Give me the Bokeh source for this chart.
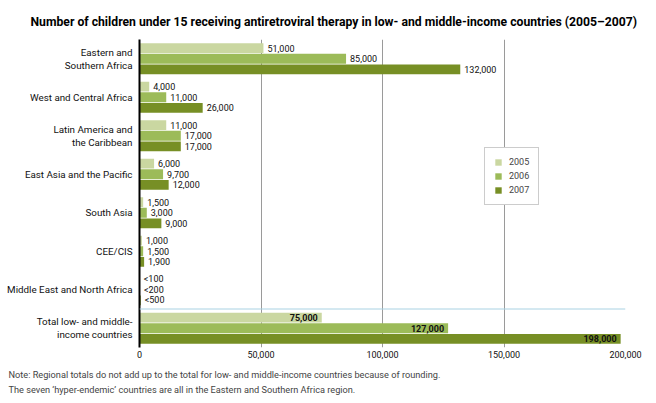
from bokeh.plotting import figure
from bokeh.models import (ColumnDataSource, FixedTicker, NumeralTickFormatter, Range1d,
                          Span, Legend, LegendItem, Title)
from bokeh.core.properties import value
from bokeh.embed import file_html
from bokeh.resources import INLINE

FONT = "Roboto"

regions = ["Eastern and\nSouthern Africa", "West and Central Africa",
           "Latin America and\nthe Caribbean", "East Asia and the Pacific",
           "South Asia", "CEE/CIS", "Middle East and North Africa",
           "Total low- and middle-\nincome countries"]
years = ["2005", "2006", "2007"]
v2005 = [51000, 4000, 11000, 6000, 1500, 1000, 100, 75000]
v2006 = [85000, 11000, 17000, 9700, 3000, 1500, 200, 127000]
v2007 = [132000, 26000, 17000, 12000, 9000, 1900, 500, 198000]
t2005 = ["51,000", "4,000", "11,000", "6,000", "1,500", "1,000", "<100", "75,000"]
t2006 = ["85,000", "11,000", "17,000", "9,700", "3,000", "1,500", "<200", "127,000"]
t2007 = ["132,000", "26,000", "17,000", "12,000", "9,000", "1,900", "<500", "198,000"]
colors = ["#cad7a1", "#9cbb59", "#778f25"]
x_ticks = [0, 50000, 100000, 150000, 200000]
note1 = "Note: Regional totals do not add up to the total for low- and middle-income countries because of rounding."
note2 = "The seven \u2018hyper-endemic\u2019 countries are all in the Eastern and Southern Africa region."
title_text = "Number of children under 15 receiving antiretroviral therapy in low- and middle-income countries (2005\u20132007)"

p = figure(width=656, height=403, output_backend="svg", toolbar_location=None,
           x_range=Range1d(0, 200000), y_range=Range1d(7.5, -0.5),
           min_border_left=139, min_border_right=31, min_border_top=39, min_border_bottom=56,
           title=None)
p.outline_line_color = None
p.background_fill_color = "white"

t = Title(text=title_text, align="left", offset=-109, text_font=FONT,
          text_font_size="12.2px", text_font_style="bold", text_color="#000000", standoff=22)
p.add_layout(t, "above")

n = len(regions)
idx = list(range(n))
offsets = [-0.275, 0.0, 0.275]
vals = [v2005, v2006, v2007]
texts = [t2005, t2006, t2007]
items = []
for k in range(3):
    ys = [i + offsets[k] for i in idx]
    src = ColumnDataSource(dict(y=ys[:7], x=vals[k][:7], t=texts[k][:7]))
    tsrc = ColumnDataSource(dict(y=ys[7:], x=vals[k][7:], t=texts[k][7:]))
    r = p.hbar(y=ys, right=vals[k], left=0, height=0.255, fill_color=colors[k],
               line_color=None)
    items.append(LegendItem(label=years[k], renderers=[r]))
    p.text(x="x", y="y", text="t", source=src, x_offset=4, text_align="left",
           text_baseline="middle", text_font=value(FONT), text_font_size="9px",
           text_color="#111111")
    p.text(x="x", y="y", text="t", source=tsrc, x_offset=-4, text_align="right",
           text_baseline="middle", text_font=value(FONT), text_font_size="9px",
           text_font_style="bold", text_color="#111111")

p.add_layout(Span(location=6.5, dimension="width", line_color="#a9d2e3", line_width=1))

p.xaxis.ticker = FixedTicker(ticks=x_ticks)
p.xaxis.formatter = NumeralTickFormatter(format="0,0")
p.xaxis.axis_line_color = None
p.xaxis.major_tick_line_color = None
p.xaxis.minor_tick_line_color = None
p.xaxis.major_tick_out = 0
p.xaxis.major_tick_in = 0
p.xaxis.major_label_text_font = FONT
p.xaxis.major_label_text_font_size = "9px"
p.xaxis.major_label_text_color = "#111111"
p.xaxis.major_label_standoff = 3

p.yaxis.ticker = FixedTicker(ticks=idx)
p.yaxis.major_label_overrides = {i: regions[i] for i in idx}
p.yaxis.axis_line_color = "black"
p.yaxis.axis_line_width = 2
p.yaxis.major_tick_line_color = None
p.yaxis.minor_tick_line_color = None
p.yaxis.major_tick_out = 0
p.yaxis.major_tick_in = 0
p.yaxis.major_label_text_font = FONT
p.yaxis.major_label_text_font_size = "9.8px"
p.yaxis.major_label_text_color = "#111111"
p.yaxis.major_label_standoff = 7
p.yaxis.major_label_text_align = "right"

p.xgrid.ticker = FixedTicker(ticks=x_ticks[1:])
p.xgrid.grid_line_color = "#9a9a9a"
p.xgrid.grid_line_width = 1
p.ygrid.grid_line_color = None

leg = Legend(items=items, location=(345, 142), orientation="vertical",
             border_line_color="#9a9a9a", background_fill_color="white",
             background_fill_alpha=1, label_text_font=FONT, label_text_font_size="9px",
             glyph_width=8, glyph_height=8, label_height=8, spacing=4, padding=9,
             margin=0, label_standoff=7)
p.add_layout(leg)

p.add_layout(Title(text=note1 + "\n" + note2, align="left", offset=-131, text_font=FONT,
                   text_font_size="9.2px", text_font_style="normal", text_line_height=1.4,
                   standoff=14), "below")

open("out.html", "w").write(file_html(p, INLINE))
